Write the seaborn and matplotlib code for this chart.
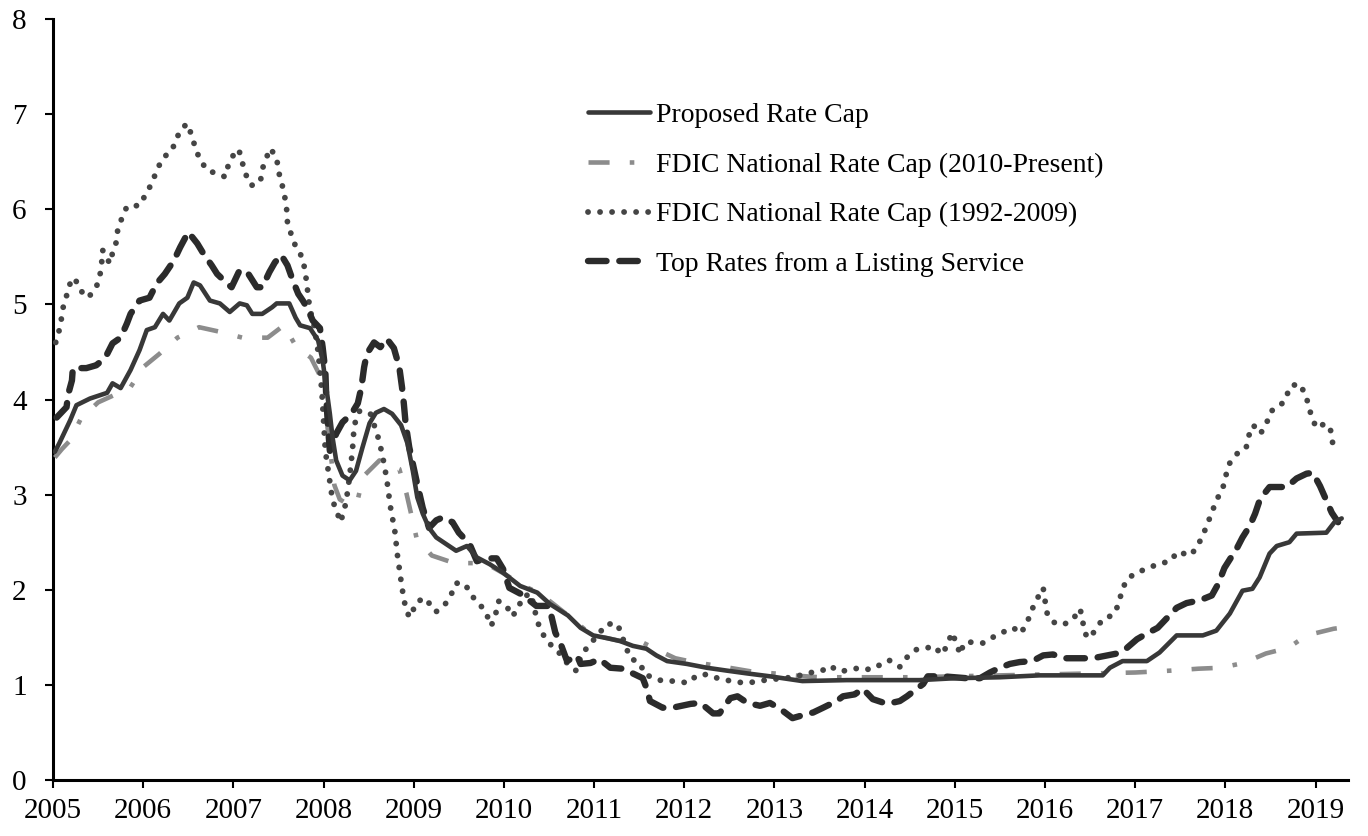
import numpy as np
import pandas as pd
import matplotlib
matplotlib.use("Agg")
import matplotlib.pyplot as plt
import seaborn as sns

# ---------------- data (decimal year, percent) ----------------
prop_x = [2005.02, 2005.07, 2005.19, 2005.26, 2005.41, 2005.6, 2005.66, 2005.75, 2005.86, 2005.96,
          2006.04, 2006.13, 2006.22, 2006.29, 2006.4, 2006.49, 2006.56, 2006.63, 2006.74, 2006.85,
          2006.96, 2007.07, 2007.15, 2007.21, 2007.32, 2007.43, 2007.48, 2007.62, 2007.69, 2007.74,
          2007.85, 2007.94, 2007.99, 2008.03, 2008.07, 2008.1, 2008.14, 2008.21, 2008.29, 2008.36,
          2008.43, 2008.51, 2008.58, 2008.67, 2008.76, 2008.86, 2008.93, 2008.99, 2009.04, 2009.1,
          2009.17, 2009.25, 2009.36, 2009.47, 2009.59, 2009.7, 2009.84, 2009.99, 2010.18, 2010.37,
          2010.51, 2010.71, 2010.85, 2010.99, 2011.15, 2011.29, 2011.43, 2011.58, 2011.69, 2011.81,
          2012.03, 2012.25, 2012.47, 2012.7, 2012.95, 2013.31, 2013.8, 2014.3, 2014.61, 2015.0,
          2015.5, 2015.94, 2016.64, 2016.72, 2016.86, 2017.13, 2017.27, 2017.46, 2017.75, 2017.9,
          2018.05, 2018.19, 2018.3, 2018.38, 2018.49, 2018.57, 2018.71, 2018.79, 2019.12, 2019.21,
          2019.29]
prop_y = [3.45, 3.54, 3.78, 3.94, 4.01, 4.07, 4.17, 4.12, 4.31, 4.52,
          4.73, 4.76, 4.9, 4.83, 5.01, 5.07, 5.23, 5.2, 5.04, 5.01,
          4.92, 5.01, 4.99, 4.9, 4.9, 4.97, 5.01, 5.01, 4.86, 4.78,
          4.75, 4.62, 4.41, 4.13, 3.85, 3.6, 3.36, 3.2, 3.15, 3.25,
          3.49, 3.75, 3.86, 3.9, 3.85, 3.73, 3.54, 3.25, 2.97, 2.8,
          2.65, 2.55, 2.48, 2.41, 2.46, 2.34, 2.27, 2.18, 2.04, 1.97,
          1.85, 1.73, 1.6, 1.52, 1.49, 1.46, 1.41, 1.38, 1.31, 1.25,
          1.22, 1.18, 1.15, 1.12, 1.09, 1.04, 1.05, 1.05, 1.05, 1.07,
          1.08, 1.1, 1.1, 1.18, 1.25, 1.25, 1.34, 1.52, 1.52, 1.57,
          1.75, 1.99, 2.01, 2.13, 2.38, 2.46, 2.5, 2.59, 2.6, 2.71,
          2.75]

fdic10_x = [2005.02, 2005.1, 2005.19, 2005.31, 2005.5, 2005.71, 2005.86, 2006.0, 2006.18, 2006.38,
            2006.62, 2006.86, 2007.1, 2007.38, 2007.56, 2007.7, 2007.86, 2007.95, 2008.02, 2008.07,
            2008.12, 2008.18, 2008.3, 2008.38, 2008.44, 2008.62, 2008.84, 2008.92, 2008.98, 2009.03,
            2009.2, 2009.45, 2009.7, 2009.85, 2010.0, 2010.2, 2010.4, 2010.55, 2010.75, 2010.9,
            2011.1, 2011.35, 2011.55, 2011.72, 2011.9, 2012.1, 2012.3, 2012.5, 2012.75, 2013.0,
            2013.2, 2013.5, 2014.0, 2014.5, 2015.0, 2015.5, 2016.0, 2016.5, 2017.0, 2017.4,
            2017.7, 2017.95, 2018.2, 2018.45, 2018.7, 2018.9, 2019.2, 2019.28]
fdic10_y = [3.39, 3.48, 3.57, 3.8, 3.97, 4.06, 4.13, 4.34, 4.48, 4.65,
            4.76, 4.71, 4.65, 4.65, 4.78, 4.55, 4.44, 4.27, 3.9, 3.5,
            3.1, 2.95, 2.88, 2.95, 3.19, 3.36, 3.27, 3.01, 2.76, 2.55,
            2.36, 2.28, 2.28, 2.25, 2.17, 2.05, 1.96, 1.85, 1.7, 1.58,
            1.5, 1.45, 1.44, 1.36, 1.28, 1.24, 1.21, 1.18, 1.14, 1.12,
            1.1, 1.08, 1.08, 1.08, 1.09, 1.1, 1.11, 1.12, 1.13, 1.15,
            1.17, 1.18, 1.23, 1.33, 1.39, 1.52, 1.59, 1.6]

fdic92_x = [2005.03, 2005.06, 2005.09, 2005.11, 2005.15, 2005.19, 2005.24, 2005.3, 2005.39, 2005.48,
            2005.52, 2005.54, 2005.55, 2005.63, 2005.66, 2005.7, 2005.72, 2005.77, 2005.82, 2005.96,
            2006.03, 2006.1, 2006.15, 2006.22, 2006.32, 2006.37, 2006.44, 2006.49, 2006.54, 2006.58,
            2006.63, 2006.71, 2006.83, 2006.91, 2006.94, 2007.01, 2007.06, 2007.1, 2007.13, 2007.2,
            2007.3, 2007.32, 2007.37, 2007.41, 2007.48, 2007.5, 2007.54, 2007.57, 2007.59, 2007.6,
            2007.64, 2007.69, 2007.76, 2007.79, 2007.81, 2007.84, 2007.87, 2007.9, 2007.94, 2007.98,
            2008.02, 2008.06, 2008.1, 2008.19, 2008.25, 2008.29, 2008.32, 2008.34, 2008.4, 2008.52,
            2008.6, 2008.65, 2008.7, 2008.74, 2008.79, 2008.82, 2008.86, 2008.89, 2008.91, 2008.95,
            2008.98, 2009.04, 2009.14, 2009.21, 2009.25, 2009.35, 2009.42, 2009.47, 2009.57, 2009.64,
            2009.73, 2009.8, 2009.86, 2009.91, 2009.94, 2010.03, 2010.09, 2010.16, 2010.2, 2010.3,
            2010.37, 2010.42, 2010.5, 2010.61, 2010.7, 2010.8, 2010.86, 2010.92, 2011.02, 2011.14,
            2011.26, 2011.4, 2011.51, 2011.56, 2011.76, 2011.91, 2012.04, 2012.14, 2012.25, 2012.37,
            2012.57, 2012.7, 2012.9, 2013.2, 2013.41, 2013.53, 2013.61, 2013.73, 2013.95, 2014.06,
            2014.17, 2014.27, 2014.39, 2014.47, 2014.57, 2014.67, 2014.76, 2014.86, 2014.91, 2014.97,
            2015.02, 2015.06, 2015.1, 2015.19, 2015.31, 2015.44, 2015.57, 2015.65, 2015.73, 2015.8,
            2015.85, 2015.91, 2015.98, 2016.0, 2016.02, 2016.09, 2016.2, 2016.31, 2016.39, 2016.42,
            2016.44, 2016.5, 2016.57, 2016.65, 2016.75, 2016.82, 2016.85, 2016.91, 2017.01, 2017.13,
            2017.25, 2017.39, 2017.47, 2017.61, 2017.68, 2017.75, 2017.8, 2017.85, 2017.9, 2017.97,
            2018.0, 2018.04, 2018.13, 2018.23, 2018.26, 2018.31, 2018.39, 2018.46, 2018.51, 2018.59,
            2018.67, 2018.71, 2018.81, 2018.89, 2018.92, 2018.96, 2019.01, 2019.11, 2019.17, 2019.19,
            2019.25]
fdic92_y = [4.6, 4.69, 4.83, 4.96, 5.09, 5.22, 5.28, 5.15, 5.07, 5.18,
            5.3, 5.44, 5.57, 5.43, 5.54, 5.65, 5.8, 5.92, 6.03, 6.04,
            6.16, 6.28, 6.41, 6.54, 6.62, 6.75, 6.86, 6.9, 6.77, 6.64,
            6.52, 6.41, 6.37, 6.34, 6.45, 6.59, 6.63, 6.49, 6.38, 6.25,
            6.29, 6.42, 6.55, 6.64, 6.54, 6.4, 6.26, 6.13, 6.01, 5.86,
            5.74, 5.61, 5.5, 5.38, 5.25, 5.01, 4.86, 4.76, 4.5, 4.1,
            3.46, 3.2, 2.94, 2.71, 2.92, 3.2, 3.46, 3.73, 3.88, 3.85,
            3.62, 3.43, 3.17, 2.88, 2.62, 2.36, 2.09, 1.9, 1.82, 1.71,
            1.76, 1.88, 1.91, 1.79, 1.77, 1.85, 1.96, 2.07, 2.06, 1.94,
            1.85, 1.76, 1.62, 1.75, 1.88, 1.83, 1.72, 1.8, 1.92, 1.96,
            1.67, 1.55, 1.44, 1.34, 1.23, 1.15, 1.31, 1.39, 1.5, 1.64,
            1.64, 1.28, 1.23, 1.11, 1.04, 1.04, 1.02, 1.1, 1.11, 1.07,
            1.03, 1.02, 1.05, 1.08, 1.13, 1.15, 1.2, 1.14, 1.18, 1.16,
            1.21, 1.26, 1.19, 1.29, 1.37, 1.38, 1.41, 1.32, 1.41, 1.55,
            1.43, 1.32, 1.44, 1.45, 1.44, 1.51, 1.57, 1.6, 1.54, 1.65,
            1.78, 1.9, 2.02, 1.89, 1.76, 1.66, 1.63, 1.69, 1.8, 1.66,
            1.54, 1.49, 1.6, 1.7, 1.73, 1.85, 1.99, 2.11, 2.18, 2.22,
            2.27, 2.3, 2.4, 2.36, 2.44, 2.57, 2.69, 2.81, 2.94, 3.06,
            3.18, 3.32, 3.43, 3.49, 3.62, 3.73, 3.64, 3.76, 3.88, 3.92,
            4.0, 4.13, 4.17, 4.06, 3.94, 3.81, 3.7, 3.75, 3.67, 3.54,
            3.5]

top_x = [2005.04, 2005.15, 2005.17, 2005.21, 2005.22, 2005.37, 2005.48, 2005.58, 2005.66, 2005.75,
         2005.82, 2005.86, 2005.96, 2006.07, 2006.15, 2006.24, 2006.34, 2006.41, 2006.5, 2006.6,
         2006.67, 2006.76, 2006.82, 2006.93, 2006.98, 2007.07, 2007.16, 2007.26, 2007.32, 2007.4,
         2007.46, 2007.53, 2007.6, 2007.66, 2007.72, 2007.77, 2007.82, 2007.88, 2007.96, 2007.99,
         2008.02, 2008.03, 2008.05, 2008.07, 2008.14, 2008.21, 2008.31, 2008.38, 2008.42, 2008.45,
         2008.48, 2008.56, 2008.63, 2008.7, 2008.78, 2008.84, 2008.87, 2008.89, 2008.91, 2008.95,
         2009.03, 2009.1, 2009.17, 2009.25, 2009.32, 2009.43, 2009.5, 2009.62, 2009.7, 2009.81,
         2009.92, 2009.99, 2010.06, 2010.2, 2010.36, 2010.5, 2010.54, 2010.57, 2010.63, 2010.7,
         2010.81, 2010.85, 2010.96, 2011.06, 2011.18, 2011.32, 2011.43, 2011.54, 2011.58, 2011.62,
         2011.76, 2011.87, 2012.07, 2012.18, 2012.32, 2012.39, 2012.51, 2012.59, 2012.7, 2012.84,
         2012.95, 2013.06, 2013.2, 2013.31, 2013.43, 2013.54, 2013.69, 2013.76, 2013.89, 2013.98,
         2014.09, 2014.25, 2014.39, 2014.47, 2014.58, 2014.65, 2014.7, 2014.87, 2015.13, 2015.28,
         2015.39, 2015.5, 2015.61, 2015.72, 2015.86, 2015.98, 2016.09, 2016.2, 2016.39, 2016.53,
         2016.64, 2016.8, 2016.91, 2017.02, 2017.13, 2017.25, 2017.36, 2017.46, 2017.57, 2017.72,
         2017.85, 2017.92, 2017.99, 2018.13, 2018.19, 2018.27, 2018.33, 2018.38, 2018.44, 2018.49,
         2018.68, 2018.79, 2018.9, 2018.97, 2019.05, 2019.12, 2019.18, 2019.25]
top_y = [3.81, 3.92, 4.06, 4.2, 4.33, 4.33, 4.36, 4.44, 4.59, 4.65,
         4.8, 4.9, 5.04, 5.07, 5.22, 5.32, 5.46, 5.6, 5.76, 5.64,
         5.53, 5.41, 5.32, 5.22, 5.18, 5.36, 5.33, 5.18, 5.18, 5.34,
         5.44, 5.52, 5.41, 5.25, 5.11, 5.04, 4.96, 4.83, 4.75, 4.55,
         4.3, 4.02, 3.71, 3.46, 3.64, 3.76, 3.85, 3.96, 4.13, 4.34,
         4.48, 4.6, 4.55, 4.64, 4.54, 4.34, 4.13, 3.96, 3.75, 3.5,
         3.15, 2.86, 2.65, 2.73, 2.76, 2.71, 2.6, 2.48, 2.3, 2.33,
         2.33, 2.22, 2.02, 1.95, 1.83, 1.83, 1.67, 1.55, 1.43, 1.25,
         1.31, 1.22, 1.23, 1.27, 1.18, 1.17, 1.12, 1.07, 0.97, 0.83,
         0.76, 0.76, 0.8, 0.81, 0.7, 0.7, 0.86, 0.88, 0.81, 0.78,
         0.81, 0.75, 0.65, 0.68, 0.71, 0.76, 0.83, 0.88, 0.9, 0.96,
         0.85, 0.8, 0.83, 0.88, 0.96, 1.01, 1.09, 1.09, 1.07, 1.07,
         1.13, 1.18, 1.22, 1.24, 1.25, 1.31, 1.32, 1.28, 1.28, 1.28,
         1.3, 1.33, 1.39, 1.48, 1.54, 1.6, 1.71, 1.81, 1.86, 1.89,
         1.94, 2.06, 2.23, 2.44, 2.55, 2.67, 2.8, 2.94, 3.02, 3.08,
         3.08, 3.17, 3.22, 3.23, 3.09, 2.94, 2.81, 2.71]

labels = ["Proposed Rate Cap",
          "FDIC National Rate Cap (2010-Present)",
          "FDIC National Rate Cap (1992-2009)",
          "Top Rates from a Listing Service"]
year_ticks = list(range(2005, 2020))
rate_ticks = list(range(0, 9))

# ---------------- style ----------------
sns.set_theme(style="white")
plt.rcParams["font.family"] = ["Liberation Serif", "DejaVu Serif"]
plt.rcParams["font.size"] = 20

fig = plt.figure(figsize=(13.68, 8.36), dpi=100)
ax = fig.add_axes([53 / 1368, 1 - 780 / 836, 1295 / 1368, 761 / 836])

df_prop = pd.DataFrame({"year": prop_x, "rate": prop_y})
df_f10 = pd.DataFrame({"year": fdic10_x, "rate": fdic10_y})
df_f92 = pd.DataFrame({"year": fdic92_x, "rate": fdic92_y})
df_top = pd.DataFrame({"year": top_x, "rate": top_y})

sns.lineplot(data=df_prop, x="year", y="rate", ax=ax, color="#383838", lw=3.3,
             label=labels[0], zorder=5, sort=False, estimator=None)
sns.lineplot(data=df_f10, x="year", y="rate", ax=ax, color="#8c8c8c", lw=3.3,
             linestyle=(0, (4.6, 4.4, 1.0, 4.4)), label=labels[1], zorder=3,
             sort=False, estimator=None)
sns.lineplot(data=df_f92, x="year", y="rate", ax=ax, color="#454545", lw=4.2,
             linestyle=(0, (0.01, 2.05)), dash_capstyle="round", label=labels[2], zorder=4,
             sort=False, estimator=None)
sns.lineplot(data=df_top, x="year", y="rate", ax=ax, color="#2b2b2b", lw=4.6,
             linestyle=(0, (2.9, 2.0)), dash_capstyle="round", label=labels[3], zorder=4.5,
             sort=False, estimator=None)

ax.set_xlim(2005, 2019.36)
ax.set_ylim(0, 8)
ax.set_xticks(year_ticks)
ax.set_xticklabels([str(y) for y in year_ticks])
ax.set_yticks(rate_ticks)
ax.set_yticklabels([str(v) for v in rate_ticks])
ax.set_xlabel("")
ax.set_ylabel("")

for s in ["top", "right"]:
    ax.spines[s].set_visible(False)
for s in ["left", "bottom"]:
    ax.spines[s].set_color("black")
    ax.spines[s].set_linewidth(2.2)

ax.tick_params(axis="both", which="major", direction="out", length=6, width=1.5,
               color="black", labelcolor="black", labelsize=21, bottom=True, left=True)
ax.tick_params(axis="x", pad=7)
ax.tick_params(axis="y", pad=13)

leg = ax.legend(loc="upper left", bbox_to_anchor=(0.413, 0.89), frameon=False,
                fontsize=20, handlelength=2.25, handletextpad=0.2, labelspacing=0.87,
                borderpad=0, borderaxespad=0)
for t in leg.get_texts():
    t.set_color("black")

fig.savefig("out.png", dpi=100, facecolor="white")
